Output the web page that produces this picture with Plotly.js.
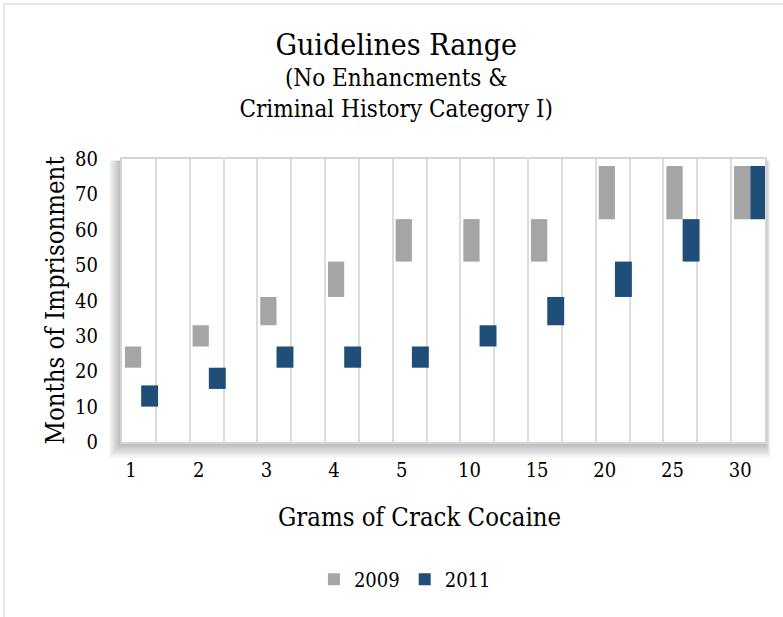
<!DOCTYPE html>
<html>
<head>
<meta charset="utf-8">
<script src="https://cdn.plot.ly/plotly-3.0.1.min.js"></script>
<style>
  html, body { margin: 0; padding: 0; background: #fff; }
  #frame { position: absolute; left: 3px; top: 3px; width: 790px; height: 620px; border-left: 2px solid #e6e6e6; border-top: 2px solid #e6e6e6; box-sizing: border-box; pointer-events: none; z-index: 5; }
  #chart { width: 783px; height: 617px; }
</style>
</head>
<body>
<div id="frame"></div>
<div id="chart"></div>
<script>
// Data
const categories = ["1", "2", "3", "4", "5", "10", "15", "20", "25", "30"];
const low2009  = [21, 27, 33, 41, 51, 51, 51, 63, 63, 63];
const high2009 = [27, 33, 41, 51, 63, 63, 63, 78, 78, 78];
const low2011  = [10, 15, 21, 21, 21, 27, 33, 41, 51, 63];
const high2011 = [16, 21, 27, 27, 27, 33, 41, 51, 63, 78];

const idx = categories.map((c, i) => i);
const FONT = "DejaVu Serif Condensed, Liberation Serif, serif";

const trace2009 = {
  type: "bar", name: "2009",
  x: idx, base: low2009, y: high2009.map((h, i) => h - low2009[i]),
  offset: -0.09, width: 0.24,
  marker: { color: "#A5A5A5", line: { width: 0 } },
  hoverinfo: "skip"
};
const trace2011 = {
  type: "bar", name: "2011",
  x: idx, base: low2011, y: high2011.map((h, i) => h - low2011[i]),
  offset: 0.15, width: 0.25,
  marker: { color: "#1F4E79", line: { width: 0 } },
  hoverinfo: "skip"
};

// soft shadow around plot area (mostly bottom-left), then white plot background
const shapes = [];
const steps = 7;
for (let k = steps; k >= 1; k--) {
  const f = k / steps;
  shapes.push({
    type: "rect", xref: "paper", yref: "paper", layer: "below",
    x0: -0.02 * f, x1: 1 + 0.008 * f, y0: -0.055 * f, y1: 0.995,
    fillcolor: "rgba(0,0,0,0.045)", line: { width: 0 }
  });
}
shapes.push({
  type: "rect", xref: "paper", yref: "paper", layer: "below",
  x0: 0, x1: 1, y0: 0, y1: 1, fillcolor: "#ffffff", line: { width: 0 }
});

const gridVals = [];
for (let k = 0; k < 20; k++) gridVals.push(-0.133 + 0.5 * k);

const layout = {
  width: 783, height: 617,
  margin: { l: 122, r: 18, t: 159, b: 175 },
  paper_bgcolor: "rgba(0,0,0,0)",
  plot_bgcolor: "rgba(0,0,0,0)",
  font: { family: FONT, color: "#000000", size: 20 },
  barmode: "overlay",
  showlegend: true,
  title: {
    text: "<span style='font-size:30px'>Guidelines Range</span><br>(No Enhancments &amp;<br>Criminal History Category I)",
    font: { family: FONT, size: 24, color: "#000" },
    x: 0.506, xanchor: "center", xref: "container",
    y: 1 - 55 / 617, yanchor: "top", yref: "container"
  },
  xaxis: {
    range: [-0.133, 9.367],
    tickmode: "array", tickvals: idx, ticktext: categories,
    showgrid: false, zeroline: false,
    ticks: "", ticklabelstandoff: 9,
    tickfont: { size: 20 },
    showline: true, linecolor: "#d4d4d4", linewidth: 2, mirror: true,
    minor: { tickmode: "array", tickvals: gridVals, showgrid: true, gridcolor: "#dcdcdc", gridwidth: 2, ticks: "" },
    fixedrange: true
  },
  yaxis: {
    range: [0, 80], tickmode: "linear", tick0: 0, dtick: 10,
    showgrid: false, zeroline: false, ticks: "",
    ticklabelstandoff: 18,
    tickfont: { size: 20 },
    showline: true, linecolor: "#d4d4d4", linewidth: 2, mirror: true,
    title: { text: "Months of Imprisonment", font: { size: 25.5 }, standoff: 3 },
    fixedrange: true
  },
  annotations: [{
    text: "Grams of Crack Cocaine", showarrow: false,
    xref: "paper", yref: "paper", x: 0.462, y: -0.265,
    xanchor: "center", yanchor: "middle",
    font: { family: FONT, size: 25.5, color: "#000" }
  }],
  legend: {
    orientation: "h", x: 0.44, xanchor: "center", y: -0.485, yanchor: "middle",
    font: { size: 20 }, itemsizing: "constant", itemwidth: 30,
    traceorder: "normal", bgcolor: "rgba(0,0,0,0)"
  },
  shapes: shapes
};

Plotly.newPlot("chart", [trace2009, trace2011], layout, { displayModeBar: false, staticPlot: true });
</script>
</body>
</html>
